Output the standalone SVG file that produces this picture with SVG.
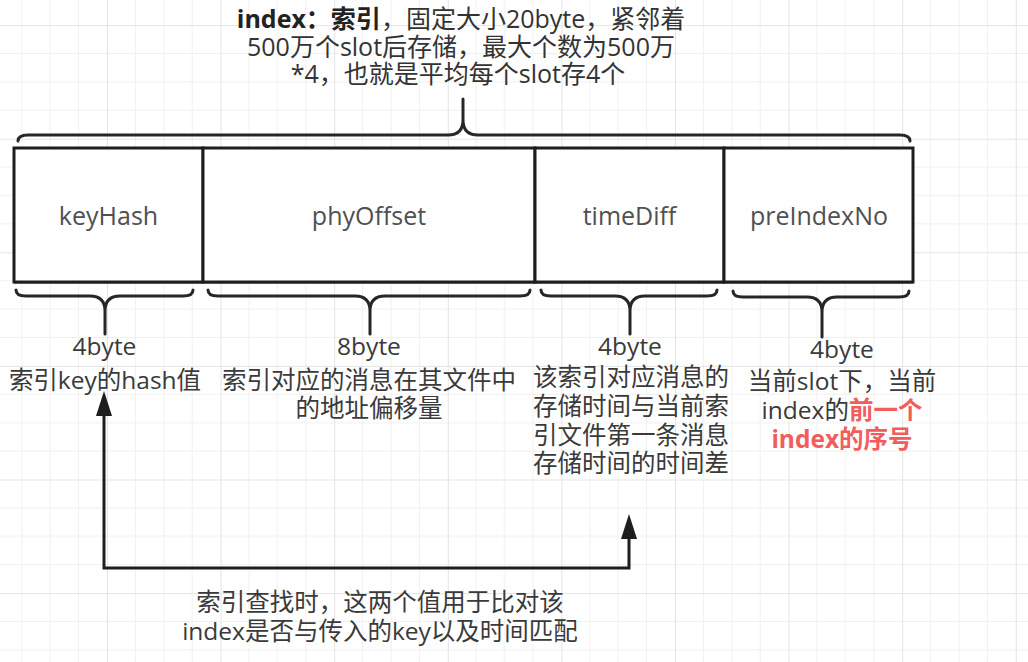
<svg xmlns="http://www.w3.org/2000/svg" width="1028" height="662" viewBox="0 0 1028 662">
<defs>
<pattern id="grid" patternUnits="userSpaceOnUse" x="-6.6" y="25.1" width="113.6" height="113.6">
<path d="M28.4,0V113.6M56.8,0V113.6M85.2,0V113.6M0,28.4H113.6M0,56.8H113.6M0,85.2H113.6" stroke="#f0f0f0" stroke-width="1" fill="none"/>
<path d="M0.5,0V113.6M0,0.5H113.6" stroke="#e4e4e4" stroke-width="1" fill="none"/>
</pattern>
<marker id="arr" markerUnits="userSpaceOnUse" markerWidth="28" markerHeight="20" viewBox="0 -10 28 20" refX="1" refY="0" orient="auto-start-reverse">
<path d="M0,-8L25,0L0,8Z" fill="#1e1e1e"/>
</marker>
<style>
.t{font-family:"Open Sans","Noto Sans CJK SC",sans-serif;font-size:24.5px;fill:#3a3a3a}
.top{font-size:25px;fill:#333}
.lbl{font-size:25px;fill:#505050;text-anchor:middle}
.c{text-anchor:middle}
.red{fill:#f25c5c;font-weight:bold}
.cell{fill:#fff;stroke:#1e1e1e;stroke-width:3}
.brace{fill:none;stroke:#262626;stroke-width:3;stroke-linejoin:round;stroke-linecap:round}
.link{fill:none;stroke:#1e1e1e;stroke-width:3}
</style>
</defs>
<rect width="1028" height="662" fill="#fff"/>
<rect width="1028" height="662" fill="url(#grid)"/>

<g id="title">
<path class="brace" d="M18,141Q18,135 28,135L448,135Q463,135 463,120L463,99L463,120Q463,135 478,135L900,135Q910,135 910,141"/>
<text class="t top c" x="461" y="28"><tspan font-weight="bold" fill="#222">index：索引</tspan>，固定大小20byte，紧邻着</text>
<text class="t top c" x="461" y="56">500万个slot后存储，最大个数为500万</text>
<text class="t top c" x="458" y="83">*4，也就是平均每个slot存4个</text>
</g>

<g id="keyHash">
<rect class="cell" x="14" y="148" width="189" height="134"/>
<text class="t lbl" x="108.5" y="225">keyHash</text>
</g>
<g id="phyOffset">
<rect class="cell" x="203" y="148" width="332" height="134"/>
<text class="t lbl" x="369" y="225">phyOffset</text>
</g>
<g id="timeDiff">
<rect class="cell" x="535" y="148" width="189" height="134"/>
<text class="t lbl" x="629.5" y="225">timeDiff</text>
</g>
<g id="preIndexNo">
<rect class="cell" x="724" y="148" width="189" height="134"/>
<text class="t lbl" x="819" y="225">preIndexNo</text>
</g>
<line x1="14" y1="282.5" x2="913" y2="282.5" stroke="#1e1e1e" stroke-width="2"/>

<g id="note-keyHash">
<path class="brace" d="M16,290Q16,296 26,296L90,296Q105,296 105,311L105,334L105,311Q105,296 120,296L183,296Q193,296 193,290"/>
<text class="t c" x="104.5" y="355">4byte</text>
<text class="t c" x="105" y="389">索引key的hash值</text>
</g>
<g id="note-phyOffset">
<path class="brace" d="M208,290Q208,296 218,296L355,296Q370,296 370,311L370,334L370,311Q370,296 385,296L520,296Q530,296 530,290"/>
<text class="t c" x="369" y="355">8byte</text>
<text class="t c" x="369" y="389">索引对应的消息在其文件中</text>
<text class="t c" x="369" y="417">的地址偏移量</text>
</g>
<g id="note-timeDiff">
<path class="brace" d="M541,290Q541,296 551,296L615,296Q630,296 630,311L630,334L630,311Q630,296 645,296L707,296Q717,296 717,290"/>
<text class="t c" x="630" y="355">4byte</text>
<text class="t" x="533" y="386">该索引对应消息的</text>
<text class="t" x="533" y="415">存储时间与当前索</text>
<text class="t" x="533" y="444">引文件第一条消息</text>
<text class="t" x="533" y="472">存储时间的时间差</text>
</g>
<g id="note-preIndexNo">
<path class="brace" d="M733,291Q733,297 743,297L807,297Q822,297 822,312L822,337L822,312Q822,297 837,297L899,297Q909,297 909,291"/>
<text class="t c" x="842" y="358">4byte</text>
<text class="t c" x="842" y="390">当前slot下，当前</text>
<text class="t c" x="842" y="419">index的<tspan class="red">前一个</tspan></text>
<text class="t c red" x="842" y="448">index的序号</text>
</g>

<g id="connectors">
<path class="link" d="M629,538V568H104V415" marker-start="url(#arr)" marker-end="url(#arr)"/>
</g>
<g id="note-compare">
<text class="t c" x="380" y="611">索引查找时，这两个值用于比对该</text>
<text class="t c" x="380" y="640">index是否与传入的key以及时间匹配</text>
</g>
</svg>
